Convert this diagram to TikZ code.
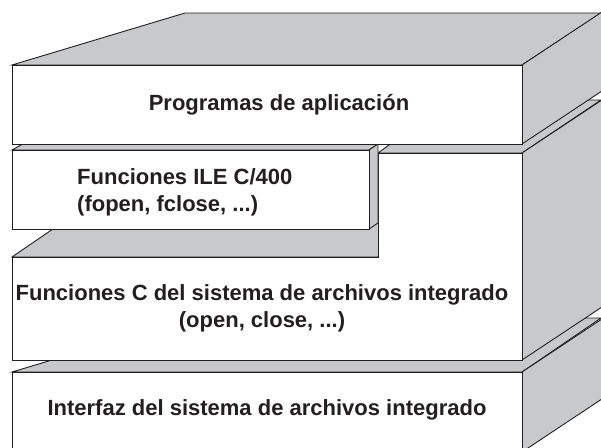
\documentclass[tikz,border=0pt]{standalone}
\usepackage{fontspec}
\setmainfont{Liberation Sans}
\definecolor{faceGray}{RGB}{200,201,203}
\definecolor{edgeGray}{RGB}{35,31,32}
\tikzset{
  face/.style={fill=faceGray, draw=edgeGray, line width=0.9pt, line join=miter},
  front/.style={fill=white, draw=edgeGray, line width=0.9pt},
  layertext/.style={font=\bfseries\fontsize{22}{27}\selectfont, text=edgeGray, inner sep=0pt}
}
\newcommand{\myFace}[2][face]{
\filldraw[#1] #2 -- cycle;
}

\begin{document}
\begin{tikzpicture}[x=1pt,y=-1pt]
	\useasboundingbox (0,0) rectangle (601,447);
	\clip (0,0) rectangle (601,447);

	% interfaz
	\myFace{(12,372) -- (192,318) -- (601,318) -- (522,372)}
	\myFace{(522,372) -- (620,307) -- (620,387) -- (522,452)}
	\myFace[front]{(12,372) -- (522,372) -- (522,452) -- (12,452)}

	% funciones C (L shape)
	\myFace{(12,257) -- (88,205) -- (400,205) -- (378,257)}
	\myFace{(378,153) -- (451,100) -- (601,100) -- (522,153)}
	\myFace{(522,153) -- (620,88) -- (620,295) -- (522,360)}
	\myFace[front]{(12,257) -- (378,257) -- (378,153) -- (522,153) -- (522,360) -- (12,360)}

	% funciones ILE
	\myFace{(12,150) -- (30,140) -- (384,140) -- (369,150)}
	\myFace{(369,150) -- (378,144) -- (378,223) -- (369,229)}
	\myFace[front]{(12,150) -- (369,150) -- (369,229) -- (12,229)}

	% programas
	\myFace{(12,65) -- (185,13) -- (601,13) -- (522,65)}
	\myFace{(522,65) -- (620,0) -- (620,79) -- (522,144)}
	\myFace[front]{(12,65) -- (522,65) -- (522,144) -- (12,144)}

	\node[layertext] (prog) at (279,105) {Programas de aplicación};
	\node[layertext, anchor=west, align=left] (ile) at (77,192.5)
		{Funciones ILE C/400\\(fopen, fclose, ...)};
	\node[layertext, align=center] (sysc) at (262,308.5)
		{Funciones C del sistema de archivos integrado\\(open, close, ...)};
	\node[layertext] (ifs) at (267,410) {Interfaz del sistema de archivos integrado};
\end{tikzpicture}
\end{document}
